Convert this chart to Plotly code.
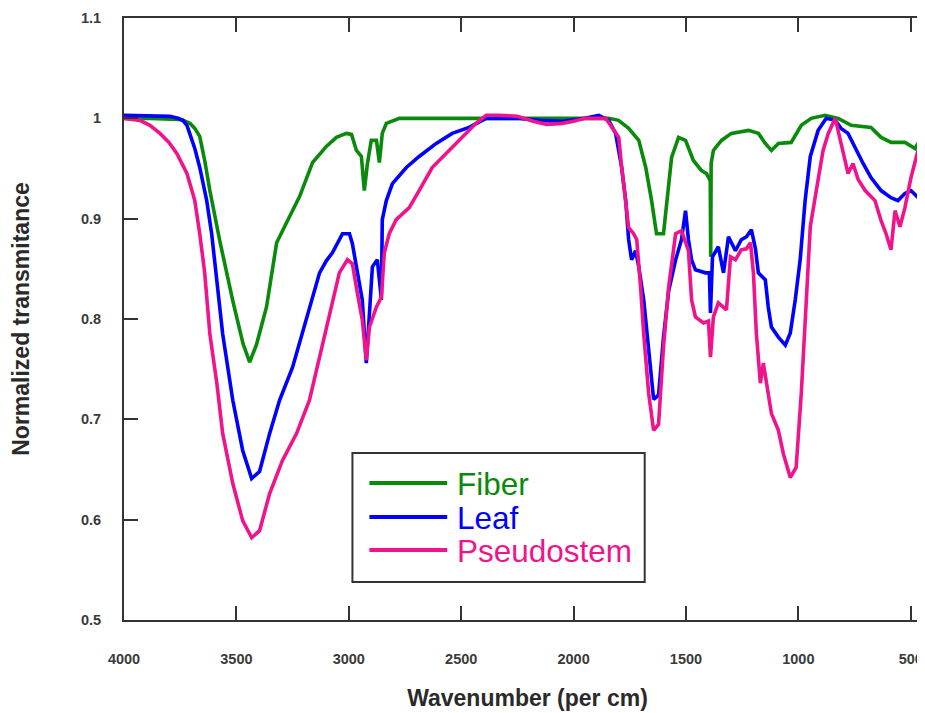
import plotly.graph_objects as go

# ---------------- data ----------------
series_names = ["Fiber", "Leaf", "Pseudostem"]
series_colors = ["#0a8a0a", "#0000ff", "#f0148c"]

fiber_wn = [4000, 3885, 3760, 3738, 3707, 3685, 3663, 3641, 3618, 3574, 3516, 3470, 3441, 3410,
            3366, 3321, 3277, 3219, 3161, 3100, 3055, 3011, 2988, 2966, 2944, 2931, 2917, 2900,
            2877, 2864, 2851, 2833, 2775,
            2600, 2400, 2200, 2000, 1844, 1800, 1755, 1710, 1679, 1653, 1631, 1600, 1586, 1564,
            1533, 1502, 1467, 1431, 1409, 1392, 1390, 1388, 1378, 1342, 1298, 1236, 1222,
            1178, 1147, 1120, 1089, 1032, 987, 943, 881, 823, 765, 677, 632, 588, 526, 481,
            455, 400]
fiber_val = [1.0, 1.0, 0.999, 0.998, 0.995, 0.99, 0.982, 0.958, 0.928, 0.878, 0.818, 0.775,
             0.757, 0.775, 0.812, 0.876, 0.896, 0.922, 0.956, 0.972, 0.981, 0.985, 0.984, 0.968,
             0.962, 0.928, 0.955, 0.978, 0.978, 0.956, 0.985, 0.995, 1.0,
             1.0, 1.0, 1.0, 1.0, 1.0, 0.998, 0.99, 0.978, 0.951, 0.918, 0.885, 0.885,
             0.918, 0.961, 0.981, 0.978, 0.958, 0.948, 0.945, 0.938, 0.862, 0.955, 0.968,
             0.978, 0.985, 0.988, 0.988, 0.985, 0.975, 0.968, 0.975, 0.976, 0.993, 1.0, 1.003,
             1.0, 0.993, 0.991, 0.981, 0.976, 0.976, 0.97, 0.98, 0.98]

leaf_wn = [4000, 3796, 3760, 3738, 3720, 3707, 3685, 3663, 3632, 3610, 3587, 3561, 3516, 3472,
           3432, 3397, 3352, 3308, 3250, 3188, 3130, 3100, 3073, 3028, 2997, 2984, 2962, 2940,
           2922, 2908, 2895, 2873, 2864, 2855, 2851, 2833, 2806, 2770, 2744, 2687, 2611, 2540,
           2465, 2389, 2332, 2250, 2150, 2050, 1950, 1888, 1844, 1813, 1786, 1768, 1755, 1742,
           1724, 1710, 1688, 1666, 1644, 1622, 1600, 1577, 1546, 1520, 1502, 1489, 1475, 1458,
           1413, 1396, 1391, 1382, 1356, 1333, 1311, 1280, 1254, 1231, 1209, 1191, 1178, 1147,
           1134, 1120, 1089, 1058, 1036, 1014, 992, 970, 947, 912, 876, 836, 810, 779, 748, 712,
           677, 632, 588, 557, 526, 499, 468, 455, 400]
leaf_val = [1.003, 1.002, 1.0, 0.998, 0.993, 0.985, 0.97, 0.951, 0.918, 0.885, 0.835, 0.785,
            0.719, 0.669, 0.641, 0.648, 0.686, 0.719, 0.752, 0.802, 0.846, 0.858, 0.866, 0.885,
            0.885, 0.875, 0.846, 0.819, 0.756, 0.80, 0.852, 0.859, 0.836, 0.819, 0.899, 0.918,
            0.935, 0.945, 0.951, 0.962, 0.975, 0.985, 0.991, 1.0, 1.0, 1.0, 0.998, 0.997, 1.0,
            1.003, 0.998, 0.985, 0.951, 0.918, 0.879, 0.859, 0.868, 0.852, 0.819, 0.769, 0.72,
            0.724, 0.782, 0.828, 0.859, 0.879, 0.908, 0.879, 0.859, 0.849, 0.846, 0.846, 0.806,
            0.862, 0.872, 0.846, 0.882, 0.868, 0.879, 0.882, 0.889, 0.87, 0.846, 0.839, 0.812,
            0.792, 0.782, 0.774, 0.786, 0.819, 0.859, 0.918, 0.962, 0.988, 1.0, 0.998, 0.99,
            0.985, 0.971, 0.955, 0.941, 0.928, 0.921, 0.918, 0.925, 0.928, 0.921, 0.935, 0.95]

pseudo_wn = [4000, 3929, 3885, 3840, 3800, 3765, 3720, 3685, 3663, 3641, 3618, 3587, 3561, 3516,
             3472, 3432, 3397, 3352, 3295, 3232, 3175, 3130, 3086, 3042, 3006, 2984, 2962, 2940,
             2922, 2908, 2877, 2855, 2842, 2820, 2789, 2731, 2687, 2629, 2567, 2496, 2434, 2389,
             2332, 2250, 2180, 2120, 2050, 2000, 1950, 1857, 1830, 1799, 1786, 1768, 1755, 1733,
             1719, 1702, 1688, 1666, 1644, 1622, 1600, 1577, 1546, 1520, 1489, 1475, 1458, 1422,
             1400, 1391, 1378, 1356, 1320, 1302, 1280, 1254, 1231, 1213, 1200, 1187, 1169, 1156,
             1143, 1120, 1089, 1067, 1036, 1010, 987, 970, 947, 912, 890, 867, 836, 810, 779,
             757, 734, 703, 659, 632, 610, 588, 570, 548, 526, 499, 468, 446, 400]
pseudo_val = [1.0, 0.998, 0.993, 0.985, 0.976, 0.965, 0.945, 0.918, 0.885, 0.846, 0.785, 0.736,
              0.686, 0.636, 0.599, 0.582, 0.589, 0.626, 0.659, 0.686, 0.719, 0.762, 0.806, 0.846,
              0.859, 0.855, 0.826, 0.799, 0.759, 0.792, 0.812, 0.822, 0.866, 0.885, 0.899, 0.911,
              0.928, 0.951, 0.965, 0.981, 0.995, 1.003, 1.003, 1.002, 0.997, 0.994, 0.995, 0.997,
              1.0, 1.0, 0.991, 0.981, 0.951, 0.918, 0.891, 0.885, 0.879, 0.832, 0.785, 0.726,
              0.689, 0.695, 0.772, 0.832, 0.885, 0.888, 0.868, 0.819, 0.802, 0.796, 0.798, 0.762,
              0.802, 0.816, 0.809, 0.862, 0.859, 0.869, 0.87, 0.876, 0.846, 0.786, 0.736, 0.756,
              0.736, 0.706, 0.689, 0.666, 0.642, 0.652, 0.726, 0.802, 0.892, 0.939, 0.968, 0.985,
              1.0, 0.975, 0.945, 0.955, 0.939, 0.928, 0.918, 0.898, 0.885, 0.869, 0.908, 0.892,
              0.911, 0.941, 0.968, 0.975, 0.985]

x_ticks = [4000, 3500, 3000, 2500, 2000, 1500, 1000, 500]
y_ticks = [0.5, 0.6, 0.7, 0.8, 0.9, 1.0, 1.1]
x_title = "Wavenumber (per cm)"
y_title = "Normalized transmitance"

# ---------------- figure ----------------
fig = go.Figure()
all_x = [fiber_wn, leaf_wn, pseudo_wn]
all_y = [fiber_val, leaf_val, pseudo_val]
for name, color, xs, ys in zip(series_names, series_colors, all_x, all_y):
    fig.add_trace(go.Scatter(x=xs, y=ys, mode="lines", name=name,
                             line=dict(color=color, width=3.6), showlegend=False))

axis_color = "#333333"
title_font = dict(family="Liberation Sans, Arial", size=23, color="#2a2a2a", weight="bold")
tick_font = dict(family="Liberation Sans, Arial", size=14.5, color="#3a3a3a", weight="bold")
fig.update_xaxes(range=[4000, 410], tickvals=x_ticks, ticks="inside", ticklen=14,
                 tickwidth=1.5, tickcolor=axis_color, showline=True, linewidth=1.8,
                 linecolor=axis_color, mirror="ticks", showgrid=False, zeroline=False,
                 tickfont=tick_font, ticklabelstandoff=25,
                 title=dict(text=x_title, standoff=24, font=title_font))
fig.update_yaxes(range=[0.5, 1.1], tickvals=y_ticks, ticks="inside", ticklen=14,
                 tickwidth=1.5, tickcolor=axis_color, showline=True, linewidth=1.8,
                 linecolor=axis_color, mirror="ticks", showgrid=False, zeroline=False,
                 tickfont=tick_font, ticklabelstandoff=18,
                 title=dict(text=y_title, standoff=50, font=title_font))

# manual legend (box, line samples, coloured labels); paper coords of plot area 124..933 x 18..620
def px_x(p):
    return (p - 124) / 809.0

def px_y(p):
    return (620 - p) / 602.0

fig.add_shape(type="rect", xref="paper", yref="paper",
              x0=px_x(353), x1=px_x(646), y0=px_y(582), y1=px_y(453),
              line=dict(color="#333333", width=2), fillcolor="white", layer="above")
legend_rows_px = [483, 517, 550]
for name, color, yy in zip(series_names, series_colors, legend_rows_px):
    fig.add_shape(type="line", xref="paper", yref="paper", x0=px_x(370), x1=px_x(448),
                  y0=px_y(yy), y1=px_y(yy), line=dict(color=color, width=4), layer="above")
    fig.add_annotation(xref="paper", yref="paper", x=px_x(456), y=px_y(yy + 1), text=name,
                       showarrow=False, xanchor="left", yanchor="middle",
                       font=dict(family="Liberation Sans, Arial", size=31.5, color=color))

# page body has an 8px margin, so margins are reduced by 8 to place the plot like the reference
fig.update_layout(width=925, height=713, autosize=False,
                  margin=dict(l=116, r=0, t=10, b=101),
                  paper_bgcolor="white", plot_bgcolor="white", showlegend=False)

fig.write_html("out.html")
